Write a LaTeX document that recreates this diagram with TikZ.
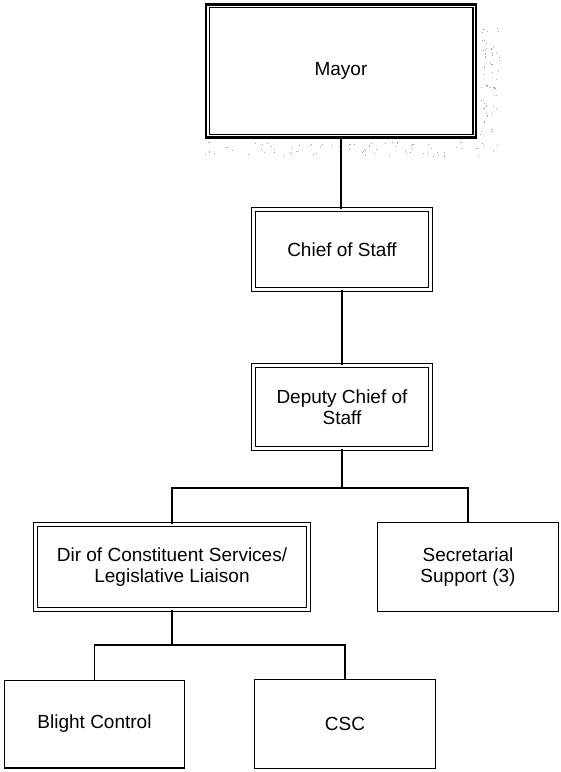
\documentclass[tikz,border=0pt]{standalone}
\usepackage{fontspec}
\setmainfont{Liberation Sans}
\begin{document}
\begin{tikzpicture}[x=1pt,y=-1pt,
  every node/.style={font=\fontsize{19}{20.5}\selectfont, align=center, inner sep=0pt},
  plainbox/.style={draw=black, line width=1.4pt, fill=white},
  dblbox/.style={draw=black, line width=1.2pt, double=white, double distance=3pt},
  headbox/.style={draw=black, line width=2.6pt, fill=white},
  link/.style={draw=black, line width=1.3pt}]
\useasboundingbox (0,0) rectangle (561,772);

% speckled shadow around the head box
\pgfmathsetseed{11}
\foreach \i in {1,...,55}{
  \pgfmathsetmacro{\px}{480+20*rnd}
  \pgfmathsetmacro{\py}{22+135*rnd}
  \fill[black!35] (\px,\py) rectangle ++(1.1,1.1);
}
\foreach \i in {1,...,70}{
  \pgfmathsetmacro{\px}{205+280*rnd}
  \pgfmathsetmacro{\py}{142+14*rnd}
  \fill[black!35] (\px,\py) rectangle ++(1.1,1.1);
}

% boxes
\node[headbox, minimum width=270pt, minimum height=133pt] (mayor) at (341,71) {Mayor};
\draw[line width=1.4pt] ([xshift=4.5pt,yshift=-4.5pt]mayor.north west) rectangle ([xshift=-4.5pt,yshift=4.5pt]mayor.south east);

\node[dblbox, minimum width=176.6pt, minimum height=80pt] (chief) at (342,249.5) {Chief of Staff};
\node[dblbox, minimum width=176.6pt, minimum height=82.6pt] (deputy) at (342,407) {Deputy Chief of\\Staff};
\node[dblbox, minimum width=272.6pt, minimum height=84.6pt] (dir) at (172,567) {Dir of Constituent Services/\\Legislative Liaison};
\node[plainbox, minimum width=180.6pt, minimum height=88.6pt] (sec) at (468,567) {Secretarial\\Support (3)};
\node[plainbox, minimum width=179.6pt, minimum height=87.6pt] (blight) at (94.5,724) {Blight Control};
\node[plainbox, minimum width=180.6pt, minimum height=88.6pt] (csc) at (345,724) {CSC};

% junctions of the branching connectors
\coordinate (busA) at (342,488);
\coordinate (busB) at (172,645);

% connectors
\draw[link] (mayor.south) -- (mayor.south |- chief.north);
\draw[link] (chief.south) -- (deputy.north);
\draw[link] (deputy.south) -- (busA);
\draw[link] (dir.north) |- (busA) -| (sec.north);
\draw[link] (dir.south) -- (busB);
\draw[link] (blight.north) |- (busB) -| (csc.north);
\end{tikzpicture}
\end{document}
